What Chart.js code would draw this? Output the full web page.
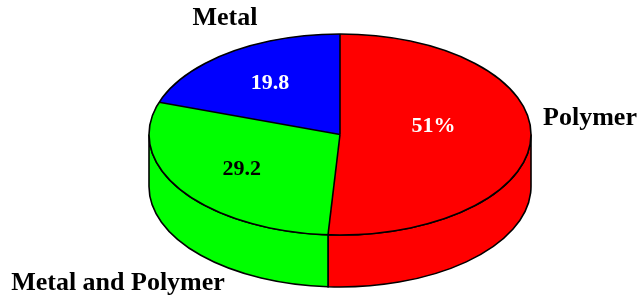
<!DOCTYPE html>
<html>
<head>
<meta charset="utf-8">
<script src="https://cdn.jsdelivr.net/npm/chart.js@4.4.0/dist/chart.umd.min.js"></script>
<style>
  html, body { margin: 0; padding: 0; background: #fff; overflow: hidden; }
  #wrap { width: 638px; height: 298px; }
</style>
</head>
<body>
<div id="wrap"><canvas id="pie3d" width="638" height="298"></canvas></div>
<script>
var categories = ["Polymer", "Metal and Polymer", "Metal"];
var values = [51, 29.2, 19.8];
var valueLabels = ["51%", "29.2", "19.8"];
var sliceColors = ["#ff0000", "#00ff00", "#0000ff"];
var valueColors = ["#ffffff", "#000000", "#ffffff"];

// where the tilted disc sits on the canvas
var disc = { cx: 340, cy: 134.5, rx: 191, ry: 100.5, depth: 52 };
// text placement
var catAnchors = [{ x: 590, y: 118 }, { x: 118, y: 283 }, { x: 225, y: 18 }];
var valueFrac = [0.49, 0.62, 0.63];
var valueDy = [-10, 0, 0];

function pt(a, r, dy) {
  return { x: disc.cx + disc.rx * r * Math.cos(a), y: disc.cy + (dy || 0) + disc.ry * r * Math.sin(a) };
}

var tiltPlugin = {
  id: 'tilt3d',
  beforeDatasetsDraw: function (chart) {
    var ctx = chart.ctx;
    var arcs = chart.getDatasetMeta(0).data;
    // side walls of the front half
    ctx.save();
    ctx.lineWidth = 1.6;
    ctx.strokeStyle = '#000';
    arcs.forEach(function (arc, i) {
      var lo = Math.max(arc.startAngle, 0), hi = Math.min(arc.endAngle, Math.PI);
      if (lo >= hi) return;
      var b = pt(hi, 1, disc.depth);
      ctx.beginPath();
      ctx.ellipse(disc.cx, disc.cy, disc.rx, disc.ry, 0, lo, hi);
      ctx.lineTo(b.x, b.y);
      ctx.ellipse(disc.cx, disc.cy + disc.depth, disc.rx, disc.ry, 0, hi, lo, true);
      ctx.closePath();
      ctx.fillStyle = sliceColors[i];
      ctx.fill();
      ctx.stroke();
    });
    ctx.restore();
    // squash the top face into an ellipse
    var a0 = arcs[0];
    ctx.save();
    ctx.translate(disc.cx, disc.cy);
    ctx.scale(disc.rx / a0.outerRadius, disc.ry / a0.outerRadius);
    ctx.translate(-a0.x, -a0.y);
  },
  afterDatasetsDraw: function (chart) {
    var ctx = chart.ctx;
    ctx.restore();
    var arcs = chart.getDatasetMeta(0).data;
    ctx.save();
    ctx.lineWidth = 1.6;
    ctx.strokeStyle = '#000';
    ctx.beginPath();
    ctx.ellipse(disc.cx, disc.cy, disc.rx, disc.ry, 0, 0, Math.PI * 2);
    ctx.stroke();
    arcs.forEach(function (arc) {
      var p = pt(arc.startAngle, 1);
      ctx.beginPath();
      ctx.moveTo(disc.cx, disc.cy);
      ctx.lineTo(p.x, p.y);
      ctx.stroke();
    });
    // labels
    ctx.textAlign = 'center';
    ctx.textBaseline = 'middle';
    ctx.font = 'bold 22px "Liberation Serif", "Times New Roman", serif';
    arcs.forEach(function (arc, i) {
      var mid = (arc.startAngle + arc.endAngle) / 2;
      var p = pt(mid, valueFrac[i], valueDy[i]);
      ctx.fillStyle = valueColors[i];
      ctx.fillText(valueLabels[i], p.x, p.y);
    });
    ctx.font = 'bold 26px "Liberation Serif", "Times New Roman", serif';
    ctx.fillStyle = '#000';
    categories.forEach(function (c, i) {
      ctx.fillText(c, catAnchors[i].x, catAnchors[i].y);
    });
    ctx.restore();
  }
};

var ctx = document.getElementById("pie3d");
var chartPie = new Chart(ctx, {
  type: 'pie',
  data: {
    labels: categories,
    datasets: [{
      data: values,
      backgroundColor: sliceColors,
      borderWidth: 0,
      hoverOffset: 0,
      clip: false
    }]
  },
  options: {
    responsive: false,
    animation: false,
    events: [],
    layout: { padding: 0 },
    plugins: {
      legend: { display: false },
      tooltip: { enabled: false }
    }
  },
  plugins: [tiltPlugin]
});
</script>
</body>
</html>
